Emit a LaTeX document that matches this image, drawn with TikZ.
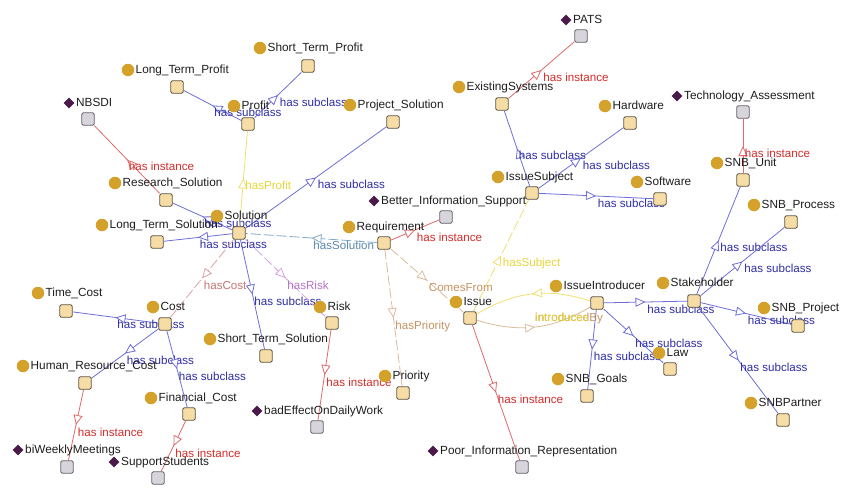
\documentclass[tikz,border=0pt]{standalone}
\usepackage{fontspec}
\setmainfont{Liberation Sans}
\usetikzlibrary{arrows.meta,decorations.markings,calc,shapes.geometric,backgrounds}

% palette
\definecolor{dotgold}{HTML}{D4A22A}
\definecolor{clsfill}{HTML}{F6DDA6}
\definecolor{clsline}{HTML}{5E5545}
\definecolor{indfill}{HTML}{D8D4DC}
\definecolor{indline}{HTML}{66606C}
\definecolor{gemcol}{HTML}{4A1A48}
\definecolor{nametext}{HTML}{1E1E1E}
\definecolor{subline}{HTML}{6E6ED8}
\definecolor{subtext}{HTML}{2E2EA6}
\definecolor{insline}{HTML}{E06A6A}
\definecolor{instext}{HTML}{D42C2C}
\definecolor{yelline}{HTML}{F0E070}
\definecolor{yeltext}{HTML}{E6D63A}
\definecolor{solline}{HTML}{80A8C8}
\definecolor{soltext}{HTML}{5C88AC}
\definecolor{costline}{HTML}{DCA4A4}
\definecolor{costtext}{HTML}{C87474}
\definecolor{riskline}{HTML}{D4A4E4}
\definecolor{risktext}{HTML}{B474C8}
\definecolor{tanline}{HTML}{DCBC98}
\definecolor{tantext}{HTML}{C49464}

\tikzset{
  clsbox/.style={draw=clsline, fill=clsfill, minimum size=12.5pt, inner sep=0pt,
    rounded corners=1.5pt, line width=0.9pt},
  indbox/.style={clsbox, draw=indline, fill=indfill},
  golddot/.style={circle, fill=dotgold, minimum size=12.5pt, inner sep=0pt},
  gem/.style={diamond, fill=gemcol, minimum width=11pt, minimum height=11pt, inner sep=0pt},
  namelbl/.style={anchor=west, font=\fontsize{11.8}{13}\selectfont, text=nametext,
    inner sep=0pt, text height=8.5pt, text depth=2pt},
  elbl/.style={anchor=west, font=\fontsize{11.6}{13}\selectfont, inner sep=0pt,
    text height=8.5pt, text depth=2pt, xshift=1.5pt, yshift=-8pt},
  midtip/.style={postaction={decorate}, decoration={markings,
    mark=at position 0.5 with {\arrow[line width=0.8pt]{Triangle[length=10pt,width=9pt,fill=white]}}}},
  sub/.style={draw=subline, line width=0.8pt, midtip},
  ins/.style={draw=insline, line width=0.8pt, midtip},
  prop/.style={line width=0.8pt, midtip},
  dashprop/.style={prop, dash pattern=on 10pt off 3pt},
}

% a class: gold dot with its name, and the box the connectors meet
\newcommand\mkclass[4]{%
  \node[golddot] (#1-d) at (#2) {};
  \node[namelbl] (#1-l) at (#2) [xshift=7.5pt] {#4};
  \node[clsbox] (#1) at (#3) {};
}
% an individual: purple diamond with its name, and its grey box
\newcommand\mkind[4]{%
  \node[gem] (#1-d) at (#2) {};
  \node[namelbl] (#1-l) at (#2) [xshift=7pt] {#4};
  \node[indbox] (#1) at (#3) {};
}

\begin{document}
\begin{tikzpicture}[x=1pt,y=-1pt]
\useasboundingbox (0,0) rectangle (847,490);

% classes
\mkclass{ltp}{128,70}{177,87}{Long\_Term\_Profit}
\mkclass{stp}{260,48}{308,66}{Short\_Term\_Profit}
\mkclass{profit}{234,106}{248,124}{Profit}
\mkclass{projsol}{350,105}{393,122}{Project\_Solution}
\mkclass{ressol}{115,183}{166,200}{Research\_Solution}
\mkclass{solution}{217,216}{239,233}{Solution}
\mkclass{ltsol}{102,225}{157,242}{Long\_Term\_Solution}
\mkclass{req}{349,227}{384,243}{Requirement}
\mkclass{existing}{459,87}{502,104}{ExistingSystems}
\mkclass{hardware}{605,106}{630,123}{Hardware}
\mkclass{isubj}{498,177}{532,193}{IssueSubject}
\mkclass{software}{637,182}{660,199}{Software}
\mkclass{unit}{717,163}{743,180}{SNB\_Unit}
\mkclass{process}{754,205}{791,222}{SNB\_Process}
\mkclass{timecost}{38,293}{66,311}{Time\_Cost}
\mkclass{cost}{153,307}{165,324}{Cost}
\mkclass{stsol}{210,339}{266,356}{Short\_Term\_Solution}
\mkclass{hrcost}{23,366}{85,383}{Human\_Resource\_Cost}
\mkclass{fincost}{151,398}{189,414}{Financial\_Cost}
\mkclass{risk}{320,307}{332,323}{Risk}
\mkclass{priority}{385,376}{403,393}{Priority}
\mkclass{issue}{456,302}{470,318}{Issue}
\mkclass{iintro}{556,286}{597,303}{IssueIntroducer}
\mkclass{stake}{663,283}{694,301}{Stakeholder}
\mkclass{project}{764,308}{798,326}{SNB\_Project}
\mkclass{law}{659,353}{670,369}{Law}
\mkclass{goals}{558,379}{587,396}{SNB\_Goals}
\mkclass{partner}{751,403}{783,420}{SNBPartner}

% individuals
\mkind{pats}{566,20}{581,36}{PATS}
\mkind{nbsdi}{69,103}{88,119}{NBSDI}
\mkind{techass}{677,96}{743,112}{Technology\_Assessment}
\mkind{bis}{374,201}{446,217}{Better\_Information\_Support}
\mkind{badeff}{257,411}{317,427}{badEffectOnDailyWork}
\mkind{biweekly}{18,450}{67,467}{biWeeklyMeetings}
\mkind{support}{114,462}{158,478}{SupportStudents}
\mkind{poor}{433,451}{522,467}{Poor\_Information\_Representation}

\begin{scope}[on background layer]
\fill[white] (0,0) rectangle (847,490);

% subclass links
\foreach \a/\b in {profit/ltp, profit/stp, solution/projsol, solution/ressol,
    solution/ltsol, solution/stsol, cost/timecost, cost/hrcost, cost/fincost,
    isubj/existing, isubj/hardware, isubj/software, iintro/stake, iintro/law,
    iintro/goals, stake/unit, stake/process, stake/project, stake/partner}
  \draw[sub] (\a) -- node[elbl, text=subtext] {has subclass} (\b);

% instance links
\foreach \a/\b in {ressol/nbsdi, existing/pats, unit/techass, req/bis,
    risk/badeff, issue/poor, hrcost/biweekly, fincost/support}
  \draw[ins] (\a) -- node[elbl, text=instext] {has instance} (\b);

% object properties
\draw[prop, draw=yelline] (solution) -- node[elbl, text=yeltext] {hasProfit} (profit);
\draw[dashprop, draw=solline] (req) -- node[elbl, text=soltext] {hasSolution} (solution);
\draw[dashprop, draw=costline] (solution) -- node[elbl, text=costtext] {hasCost} (cost);
\draw[dashprop, draw=riskline] (solution) -- node[elbl, text=risktext] {hasRisk} (risk);
\draw[dashprop, draw=tanline] (req) -- node[elbl, text=tantext] {ComesFrom} (issue);
\draw[dashprop, draw=tanline] (req) -- node[elbl, text=tantext] {hasPriority} (priority);
\draw[dashprop, draw=yelline] (issue) -- node[elbl, text=yeltext] {hasSubject} (isubj);
\draw[prop, draw=tanline] (issue) to[bend right=24] (iintro);
\draw[prop, draw=yelline] (iintro) to[bend right=24] (issue);
\node[elbl, text=tantext] (ibylbl) at ($(iintro)!0.5!(issue)$) {introducedBy};
\node[elbl, text=yeltext] (ilbl) at ($(iintro)!0.5!(issue)$) {introduces};
\end{scope}
\end{tikzpicture}
\end{document}
